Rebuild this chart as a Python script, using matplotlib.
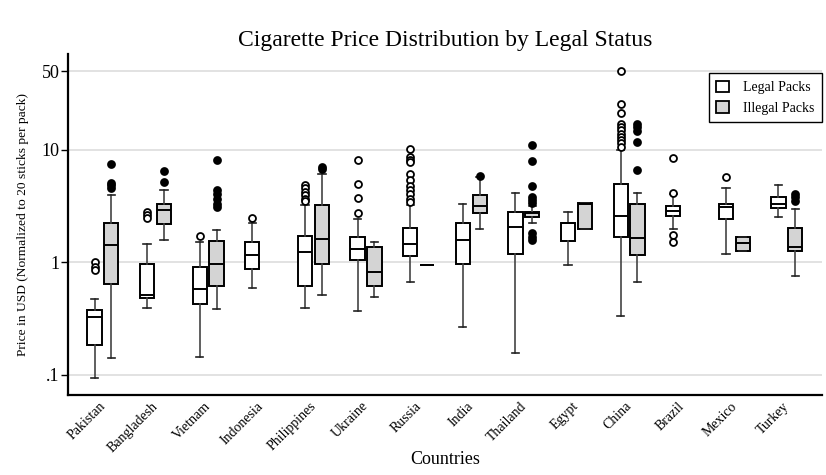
#!/usr/bin/env python3
"""Cigarette price box plots, legal vs illegal packs."""

import matplotlib
matplotlib.use("Agg")
import matplotlib.pyplot as plt
import matplotlib.transforms as mtransforms
from matplotlib.patches import Patch

countries = ["Pakistan", "Bangladesh", "Vietnam", "Indonesia", "Philippines",
             "Ukraine", "Russia", "India", "Thailand", "Egypt", "China",
             "Brazil", "Mexico", "Turkey"]

# (whislo, q1, median, q3, whishi), USD per 20 sticks
legal_stats = [
    (0.093, 0.185, 0.327, 0.374, 0.469),
    (0.393, 0.482, 0.516, 0.973, 1.44),
    (0.144, 0.426, 0.575, 0.90, 1.51),
    (0.584, 0.867, 1.17, 1.50, 2.24),
    (0.393, 0.62, 1.23, 1.71, 3.19),
    (0.372, 1.04, 1.31, 1.69, 2.43),
    (0.66, 1.13, 1.44, 2.03, 3.19),
    (0.263, 0.973, 1.56, 2.24, 3.28),
    (0.157, 1.19, 2.05, 2.82, 4.10),
    (0.947, 1.54, 2.21, 2.25, 2.78),
    (0.331, 1.66, 2.56, 4.97, 9.9),
    (1.99, 2.58, 2.86, 3.15, 4.02),
    (1.19, 2.40, 3.10, 3.32, 4.55),
    (2.53, 3.02, 3.30, 3.80, 4.81),
]
legal_fliers = [
    [1.0, 0.9, 0.85],
    [2.8, 2.62, 2.45],
    [1.70],
    [2.48],
    [4.84, 4.52, 4.21, 3.94, 3.68, 3.49],
    [8.12, 4.97, 3.73, 2.74],
    [10.1, 8.63, 8.07, 7.69, 6.05, 5.43, 4.73, 4.42, 4.07, 3.68, 3.44],
    [],
    [],
    [],
    [49.9, 25.2, 21.0, 16.9, 16.0, 14.9, 13.9, 13.0, 12.2, 11.4, 10.6],
    [8.45, 4.1, 1.74, 1.50],
    [5.7],
    [],
]

# None where no illegal packs were sampled
illegal_stats = [
    (0.14, 0.646, 1.42, 2.21, 3.94),
    (1.56, 2.19, 2.88, 3.26, 4.37),
    (0.382, 0.616, 0.954, 1.54, 1.92),
    None,
    (0.512, 0.973, 1.60, 3.21, 6.02),
    (0.492, 0.616, 0.81, 1.37, 1.50),
    (0.94, 0.94, 0.94, 0.94, 0.94),
    (1.96, 2.76, 3.15, 3.94, 5.73),
    (2.21, 2.53, 2.71, 2.82, 3.16),
    (1.98, 1.98, 3.30, 3.37, 3.37),
    (0.66, 1.15, 1.64, 3.32, 4.16),
    None,
    (1.27, 1.27, 1.47, 1.66, 1.66),
    (0.75, 1.26, 1.37, 2.02, 2.98),
]
illegal_fliers = [
    [7.43, 5.1, 4.83, 4.6],
    [6.48, 5.17],
    [8.12, 4.37, 4.0, 3.63, 3.32, 3.1],
    [],
    [6.95, 6.67],
    [],
    [],
    [5.8],
    [10.9, 7.85, 4.73, 3.8, 3.55, 3.39, 1.8, 1.68, 1.57],
    [],
    [16.9, 15.8, 14.7, 11.6, 6.58],
    [],
    [],
    [4.07, 3.8, 3.51],
]


def make_stats(stats, fliers):
    out = []
    for s, f in zip(stats, fliers):
        lo, q1, med, q3, hi = s
        out.append({"whislo": lo, "q1": q1, "med": med, "q3": q3,
                    "whishi": hi, "fliers": f})
    return out


def draw(ax, stats, positions, face, flier_face):
    ax.bxp(stats, positions=positions, widths=0.27, patch_artist=True,
           showfliers=True, manage_ticks=False,
           boxprops=dict(facecolor=face, edgecolor="black", linewidth=1.4),
           medianprops=dict(color="black", linewidth=1.4),
           whiskerprops=dict(color="#444444", linewidth=1.2),
           capprops=dict(color="#222222", linewidth=1.2),
           capwidths=0.14,
           flierprops=dict(marker="o", markersize=5, markerfacecolor=flier_face,
                           markeredgecolor="black", markeredgewidth=1.3,
                           linestyle="none"))


def main() -> None:
    plt.rcParams["font.family"] = ["Liberation Serif", "DejaVu Serif"]
    fig = plt.figure(figsize=(8.26, 4.75), dpi=100)
    ax = fig.add_axes([0.0823, 0.1684, 0.9127, 0.7176])

    off = 0.16
    leg_pos = [i - off for i in range(len(countries))]
    draw(ax, make_stats(legal_stats, legal_fliers), leg_pos, "white", "white")

    ill = [(i + off, s, f) for i, (s, f) in
           enumerate(zip(illegal_stats, illegal_fliers)) if s is not None]
    draw(ax, make_stats([s for _, s, _ in ill], [f for _, _, f in ill]),
         [p for p, _, _ in ill], "#d4d4d4", "black")

    ax.set_yscale("log")
    ax.set_ylim(0.066, 70.6)
    ax.set_xlim(-0.665, len(countries) - 1 + 0.665)
    ax.set_yticks([0.1, 1, 10, 50])
    ax.set_yticklabels([".1", "1", "10", "50"], fontsize=13)
    ax.yaxis.set_minor_locator(plt.NullLocator())
    ax.tick_params(axis="y", length=5, width=1, pad=1)
    ax.set_xticks(range(len(countries)))
    ax.set_xticklabels(countries, rotation=45, ha="right", fontsize=10)
    ax.tick_params(axis="x", length=0, pad=4)
    shift = mtransforms.ScaledTranslation(0.05, 0.01, fig.dpi_scale_trans)
    for lab in ax.get_xticklabels():
        lab.set_transform(lab.get_transform() + shift)

    ax.grid(axis="y", color="#dddddd", linewidth=1.2)
    ax.set_axisbelow(True)
    for side in ("top", "right"):
        ax.spines[side].set_visible(False)
    for side in ("left", "bottom"):
        ax.spines[side].set_linewidth(1.6)

    ax.set_title("Cigarette Price Distribution by Legal Status", fontsize=17, pad=6)
    ax.set_xlabel("Countries", fontsize=13)
    ax.xaxis.set_label_coords(0.5, -0.165)
    ax.set_ylabel("Price in USD (Normalized to 20 sticks per pack)", fontsize=9.7,
                  labelpad=9)

    handles = [Patch(facecolor="white", edgecolor="black", linewidth=1.3,
                     label="Legal Packs"),
               Patch(facecolor="#d4d4d4", edgecolor="black", linewidth=1.3,
                     label="Illegal Packs")]
    leg = ax.legend(handles=handles, loc="upper right", fontsize=10,
                    bbox_to_anchor=(1.0, 0.945), borderaxespad=0,
                    fancybox=False, edgecolor="black", framealpha=1,
                    handlelength=0.9, handleheight=0.9, handletextpad=1.0,
                    borderpad=0.55)
    leg.get_frame().set_linewidth(1.0)

    fig.savefig("out.png", dpi=100)


if __name__ == "__main__":
    main()
